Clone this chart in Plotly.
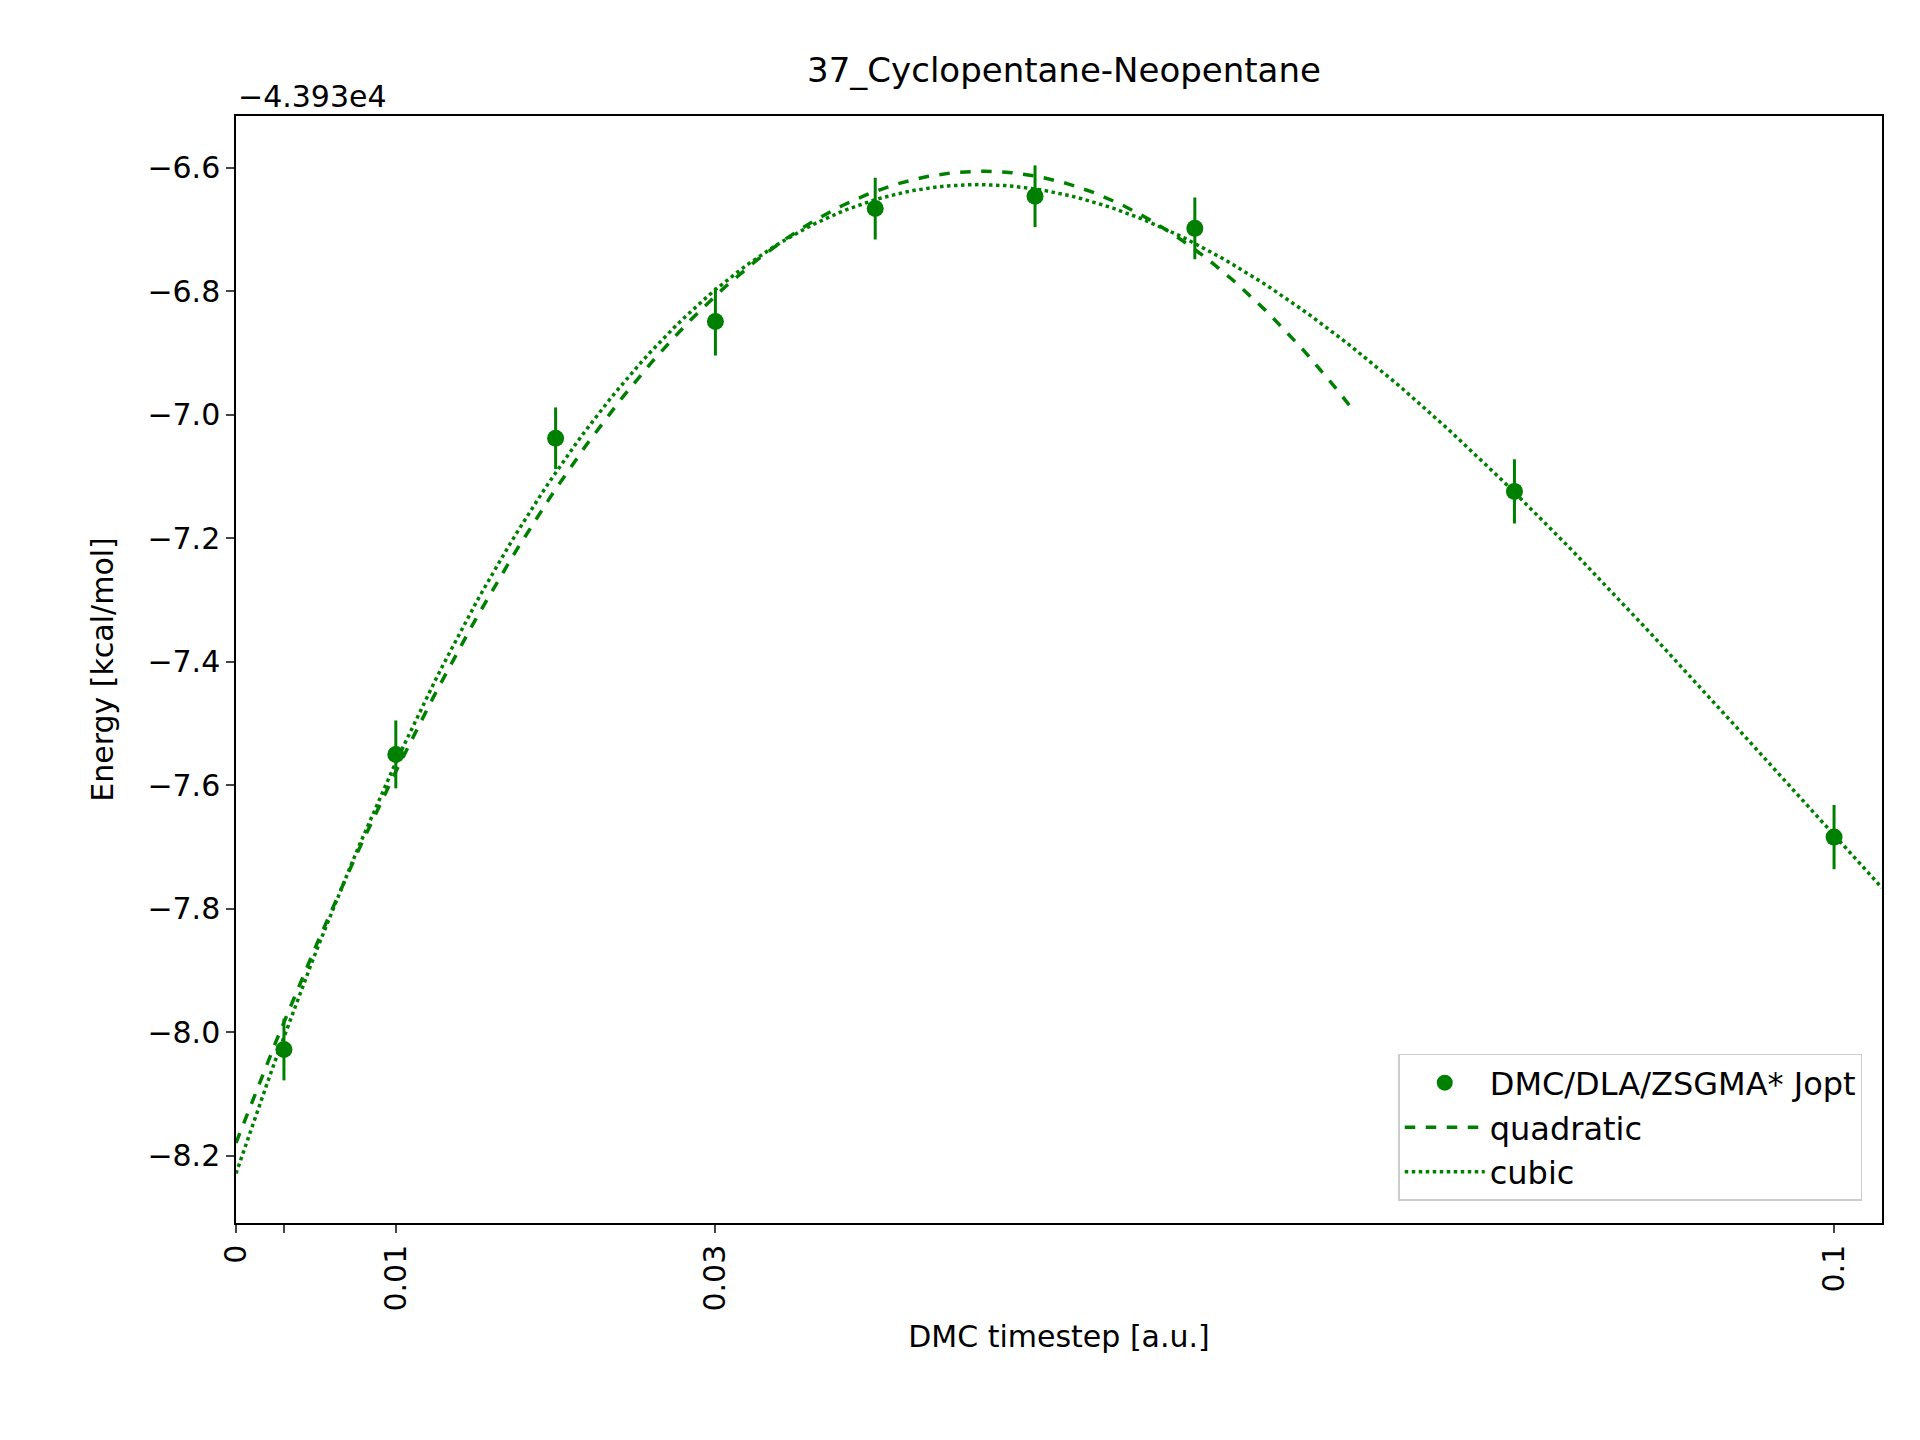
import plotly.graph_objects as go
import numpy as np

# energies shown relative to -4.393e4 kcal/mol
timestep = [0.003, 0.01, 0.02, 0.03, 0.04, 0.05, 0.06, 0.08, 0.1]
energy = [-8.028, -7.55, -7.038, -6.849, -6.666, -6.646, -6.698, -7.124, -7.684]
err = [0.05, 0.055, 0.05, 0.055, 0.05, 0.05, 0.05, 0.052, 0.052]
xtick_vals = [0, 0.003, 0.01, 0.03, 0.1]
xtick_text = ["0", "", "0.01", "0.03", "0.1"]

green = "#008000"
t = np.array(timestep)
e = np.array(energy)
w = 1 / np.array(err)

q = np.polyfit(t[:7], e[:7], 2, w=w[:7])
c = np.polyfit(t, e, 3, w=w)
xq = np.linspace(0, 0.07, 200)
xc = np.linspace(0, 0.103, 200)

fig = go.Figure()
fig.add_trace(go.Scatter(
    x=timestep, y=energy, mode="markers", name="DMC/DLA/ZSGMA* Jopt",
    marker=dict(color=green, size=17),
    error_y=dict(type="data", array=err, color=green, thickness=3, width=0)))
fig.add_trace(go.Scatter(x=xq, y=np.polyval(q, xq), mode="lines", name="quadratic",
                         line=dict(color=green, width=3.5, dash="dash")))
fig.add_trace(go.Scatter(x=xc, y=np.polyval(c, xc), mode="lines", name="cubic",
                         line=dict(color=green, width=3.5, dash="dot")))

axis_common = dict(showline=True, linecolor="black", linewidth=1.5, mirror=True,
                   ticks="outside", ticklen=8, tickwidth=1.5, showgrid=False,
                   zeroline=False, tickfont=dict(size=30, color="black"))
fig.update_xaxes(range=[0, 0.103], tickvals=xtick_vals, ticktext=xtick_text,
                 tickangle=-90, title=dict(text="DMC timestep [a.u.]", font=dict(size=30)),
                 **axis_common)
fig.update_yaxes(range=[-8.309, -6.516], tickvals=[-8.2, -8.0, -7.8, -7.6, -7.4, -7.2, -7.0, -6.8, -6.6],
                 ticktext=["−8.2", "−8.0", "−7.8", "−7.6", "−7.4", "−7.2", "−7.0", "−6.8", "−6.6"],
                 title=dict(text="Energy [kcal/mol]", font=dict(size=30), standoff=25),
                 **axis_common)

fig.add_annotation(text="−4.393e4", xref="paper", yref="paper", x=0, y=1.0,
                   xanchor="left", yanchor="bottom", showarrow=False,
                   font=dict(size=30, color="black"))

fig.update_layout(
    width=1920, height=1440,
    margin=dict(l=228, r=46, t=108, b=225),
    plot_bgcolor="white", paper_bgcolor="white",
    font=dict(family="DejaVu Sans", color="black"),
    title=dict(text="37_Cyclopentane-Neopentane", x=0.55, xanchor="center",
               y=0.965, font=dict(size=34)),
    legend=dict(x=0.988, y=0.02, xanchor="right", yanchor="bottom",
                bordercolor="#cccccc", borderwidth=1.5, bgcolor="rgba(255,255,255,0.8)",
                font=dict(size=32), itemwidth=80, tracegroupgap=12),
)

fig.write_html("out.html")
